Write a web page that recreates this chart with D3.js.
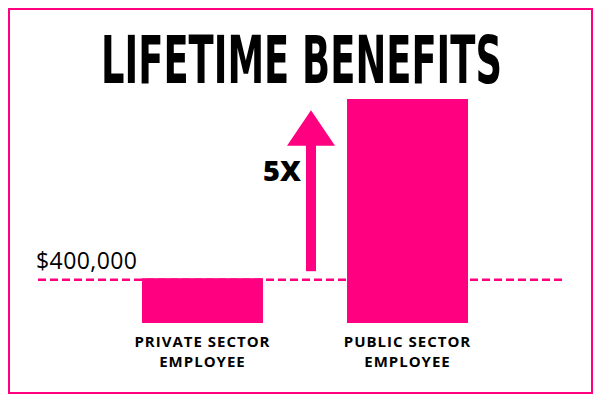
<!DOCTYPE html>
<html>
<head>
<meta charset="utf-8">
<script src="https://cdn.jsdelivr.net/npm/d3@7"></script>
<style>
  html, body { margin: 0; padding: 0; background: #fff; }
  svg { display: block; }
</style>
</head>
<body>
<svg id="chart" width="600" height="400"></svg>
<script>
// ---- data ----
const title = "LIFETIME BENEFITS";
const categories = [["PRIVATE SECTOR", "EMPLOYEE"], ["PUBLIC SECTOR", "EMPLOYEE"]];
const values = [400000, 2000000];
const referenceValue = 400000;
const referenceLabel = "$400,000";
const multiplierLabel = "5X";

const PINK = "#FF0080";
const svg = d3.select("#chart");

// frame
svg.append("rect")
  .attr("x", 9).attr("y", 9).attr("width", 583).attr("height", 384)
  .attr("fill", "none").attr("stroke", PINK).attr("stroke-width", 2);

// title (measured, then squeezed horizontally to the reference width)
const titleG = svg.append("g");
const titleT = titleG.append("text")
  .attr("x", 0).attr("y", 0)
  .attr("text-anchor", "middle")
  .attr("font-family", "'Liberation Sans Narrow', 'DejaVu Sans Condensed', sans-serif")
  .attr("font-weight", "900")
  .attr("font-size", 65)
  .attr("fill", "#000")
  .text(title);
const natW = titleT.node().getComputedTextLength() || 400;
const sx = 401 / natW;
titleG.attr("transform", `translate(301.5,83) scale(${sx},1)`);

// scales
const x = d3.scaleBand()
  .domain(categories.map(d => d[0]))
  .range([142, 468])
  .paddingInner(0.41)
  .paddingOuter(0);

const y = d3.scaleLinear()
  .domain([0, 2000000])
  .range([323, 99]);

// reference dashed line (behind bars)
svg.append("line")
  .attr("x1", 38).attr("x2", 563)
  .attr("y1", y(referenceValue) + 1.5).attr("y2", y(referenceValue) + 1.5)
  .attr("stroke", PINK).attr("stroke-width", 2.5)
  .attr("stroke-dasharray", "8,4");

svg.append("text")
  .attr("x", 36).attr("y", 269)
  .attr("font-family", "'Open Sans', 'Noto Sans', sans-serif")
  .attr("font-size", 23)
  .attr("textLength", 101)
  .attr("fill", "#000")
  .text(referenceLabel);

// bars
svg.selectAll("rect.bar")
  .data(values)
  .enter().append("rect")
  .attr("class", "bar")
  .attr("x", (d, i) => x(categories[i][0]))
  .attr("width", x.bandwidth())
  .attr("y", d => y(d))
  .attr("height", d => y(0) - y(d))
  .attr("fill", PINK);

// category labels
categories.forEach((lines, i) => {
  const cx = x(lines[0]) + x.bandwidth() / 2;
  const t = svg.append("text")
    .attr("text-anchor", "middle")
    .attr("font-family", "'Open Sans', 'Noto Sans', sans-serif")
    .attr("font-weight", "bold")
    .attr("font-size", 15)
    .attr("letter-spacing", 1)
    .attr("fill", "#000");
  lines.forEach((ln, j) => {
    t.append("tspan").attr("x", cx).attr("y", 347 + j * 20).text(ln);
  });
});

// arrow annotation
const ax = 311;
const arrowBase = y(referenceValue) - 7;
const headBase = y(1600000) + 2;
const tip = y(1900000);
svg.append("rect")
  .attr("x", ax - 5).attr("y", headBase - 1)
  .attr("width", 10).attr("height", arrowBase - headBase + 1)
  .attr("fill", PINK);
svg.append("path")
  .attr("d", `M${ax - 24},${headBase} L${ax},${tip} L${ax + 24},${headBase} Z`)
  .attr("fill", PINK);

svg.append("text")
  .attr("x", 282).attr("y", 181)
  .attr("text-anchor", "middle")
  .attr("font-family", "'Open Sans', 'Noto Sans', sans-serif")
  .attr("font-weight", "800")
  .attr("font-size", 29)
  .attr("fill", "#000")
  .text(multiplierLabel);
</script>
</body>
</html>
